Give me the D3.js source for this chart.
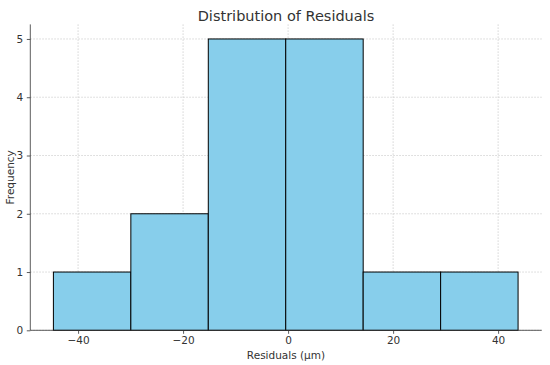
<!DOCTYPE html>
<html><head><meta charset="utf-8">
<script src="https://cdn.jsdelivr.net/npm/d3@7"></script>
<style>body{margin:0;background:#fff}svg{display:block;font-family:"DejaVu Sans",sans-serif}</style>
</head><body>
<svg id="c" width="550" height="365"></svg>
<script>
const binEdges = [-44.7, -29.95, -15.2, -0.45, 14.3, 29.05, 43.8];
const counts = [1, 2, 5, 5, 1, 1];
const xTicks = [-40, -20, 0, 20, 40];
const yTicks = [0, 1, 2, 3, 4, 5];
const title = "Distribution of Residuals";
const xLabel = "Residuals (μm)";
const yLabel = "Frequency";

const svg = d3.select("#c");
const m = {l:30.3, r:541.7, t:24.4, b:330.3};
const x = d3.scaleLinear().domain([-49.1, 48.3]).range([m.l, m.r]);
const y = d3.scaleLinear().domain([0, 5.25]).range([m.b, m.t]);
const txt = "#333";

// grid
const g = svg.append("g");
g.selectAll(".gx").data(xTicks).join("line")
  .attr("x1", d=>x(d)).attr("x2", d=>x(d)).attr("y1", m.t).attr("y2", m.b)
  .attr("stroke", "#ccc").attr("stroke-width", 0.8).attr("stroke-dasharray", "1.5,1.5");
g.selectAll(".gy").data(yTicks).join("line")
  .attr("y1", d=>y(d)).attr("y2", d=>y(d)).attr("x1", m.l).attr("x2", m.r)
  .attr("stroke", "#ccc").attr("stroke-width", 0.8).attr("stroke-dasharray", "1.5,1.5");

// bars
const bins = counts.map((c,i)=>({x0:binEdges[i], x1:binEdges[i+1], c}));
svg.append("g").selectAll("rect").data(bins).join("rect")
  .attr("x", d=>x(d.x0)).attr("width", d=>x(d.x1)-x(d.x0))
  .attr("y", d=>y(d.c)).attr("height", d=>y(0)-y(d.c))
  .attr("fill", "#87CEEB").attr("stroke", "#000").attr("stroke-width", 1);

// axes
const xa = svg.append("g").attr("transform", `translate(0,${m.b})`)
  .call(d3.axisBottom(x).tickValues(xTicks).tickSize(3.5).tickPadding(2.5).tickFormat(d=>d<0?"\u2212"+Math.abs(d):d));
const ya = svg.append("g").attr("transform", `translate(${m.l},0)`)
  .call(d3.axisLeft(y).tickValues(yTicks).tickSize(3.5).tickPadding(3.5).tickFormat(d3.format("d")));
[xa, ya].forEach(a=>{
  a.selectAll("text").attr("font-size", 10.5).attr("fill", txt).attr("font-family", "DejaVu Sans");
  a.selectAll("line").attr("stroke", txt).attr("stroke-width", 0.8);
  a.select(".domain").attr("stroke", txt).attr("stroke-width", 0.8);
});
xa.select(".domain").attr("d", `M${m.l},0H${m.r}`);
ya.select(".domain").attr("d", `M0,${m.b}V${m.t}`);

svg.append("text").attr("x", (m.l+m.r)/2).attr("y", 20.5).attr("text-anchor","middle")
  .attr("font-size", 14.5).attr("fill", txt).text(title);
svg.append("text").attr("x", (m.l+m.r)/2).attr("y", 358.5).attr("text-anchor","middle")
  .attr("font-size", 10.5).attr("fill", txt).text(xLabel);
svg.append("text").attr("transform", `translate(14,${(m.t+m.b)/2}) rotate(-90)`).attr("text-anchor","middle")
  .attr("font-size", 10.5).attr("fill", txt).text(yLabel);
</script>
</body></html>
